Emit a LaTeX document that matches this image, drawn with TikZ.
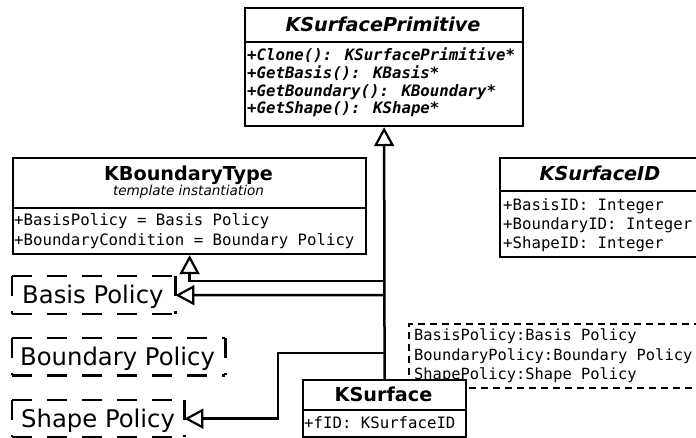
\documentclass[tikz,border=0pt]{standalone}
\usepackage{fontspec}
\usetikzlibrary{arrows.meta}
\newfontfamily\uisans{DejaVu Sans}
\newfontfamily\uimono{DejaVu Sans Mono}

\tikzset{
  classbox/.style={draw, line width=2.2pt, fill=white, inner sep=0pt, anchor=north west},
  divider/.style={line width=2.2pt},
  ttl/.style={font=\uisans\bfseries\fontsize{19.2}{22}\selectfont, anchor=base, inner sep=0pt},
  ttlit/.style={ttl, font=\uisans\bfseries\itshape\fontsize{19.2}{22}\selectfont},
  stereo/.style={font=\uisans\itshape\fontsize{13.6}{16}\selectfont, anchor=base, inner sep=0pt},
  attr/.style={font=\uimono\fontsize{15.7}{18}\selectfont, anchor=base west, inner sep=0pt},
  tplattr/.style={attr, font=\uimono\fontsize{15.4}{18}\selectfont},
  meth/.style={font=\uimono\bfseries\itshape\fontsize{15.7}{18}\selectfont, anchor=base west, inner sep=0pt},
  policy/.style={inner sep=0pt, anchor=north west},
  policytext/.style={font=\uisans\fontsize{24.3}{28}\selectfont, anchor=base west, inner sep=0pt},
  polyedge/.style={line width=2.2pt, dash pattern=on 20pt off 15pt},
  tparam/.style={draw, line width=2pt, dash pattern=on 7pt off 5pt, inner sep=0pt, anchor=north west},
  inh/.style={line width=2.5pt, -{Triangle[open, length=19pt, width=20pt, line width=2.2pt]}},
}

\begin{document}
\begin{tikzpicture}[x=1pt, y=-1pt]
\useasboundingbox (0,0) rectangle (696,438);
\clip (0,0) rectangle (696,438);

% abstract base class
\node[classbox, minimum width=278pt, minimum height=118pt] (ksp) at (244,7) {};
\draw[divider] (ksp.west |- 0,42) -- (ksp.east |- 0,42);
\node[ttlit] (ksp-name) at (383,31.5) {KSurfacePrimitive};
\node[meth] (ksp-m1) at (247,60.5) {+Clone(): KSurfacePrimitive*};
\node[meth] (ksp-m2) at (247,78.3) {+GetBasis(): KBasis*};
\node[meth] (ksp-m3) at (247,96.1) {+GetBoundary(): KBoundary*};
\node[meth] (ksp-m4) at (247,113.9) {+GetShape(): KShape*};

% template instantiation
\node[classbox, minimum width=353pt, minimum height=96pt] (kbt) at (12,157) {};
\draw[divider] (kbt.west |- 0,208) -- (kbt.east |- 0,208);
\node[ttl] (kbt-name) at (188.5,181) {KBoundaryType};
\node[stereo] (kbt-stereo) at (188.5,196) {template instantiation};
\node[attr] (kbt-a1) at (14,225.5) {+BasisPolicy = Basis Policy};
\node[attr] (kbt-a2) at (14,245.5) {+BoundaryCondition = Boundary Policy};

% surface id
\node[classbox, minimum width=202pt, minimum height=99pt] (kid) at (499,157) {};
\draw[divider] (kid.west |- 0,191) -- (kid.east |- 0,191);
\node[ttlit] (kid-name) at (600,181) {KSurfaceID};
\node[attr] (kid-a1) at (503,210.5) {+BasisID: Integer};
\node[attr] (kid-a2) at (503,229.5) {+BoundaryID: Integer};
\node[attr] (kid-a3) at (503,248.5) {+ShapeID: Integer};

% policy parameters
\node[policy, minimum width=163pt, minimum height=38pt] (basis) at (12,276) {};
\node[policy, minimum width=213pt, minimum height=37pt] (bound) at (12,338) {};
\node[policy, minimum width=172pt, minimum height=37pt] (shape) at (12,400) {};
\foreach \p in {basis,bound,shape}{
  \draw[polyedge] (\p.north west) -- (\p.north east);
  \draw[polyedge] (\p.north east) -- (\p.south east);
  \draw[polyedge] (\p.south west) -- (\p.south east);
  \draw[polyedge] (\p.north west) -- (\p.south west);
}
\node[policytext] (basis-txt) at (22,304) {Basis Policy};
\node[policytext] (bound-txt) at (20,365.5) {Boundary Policy};
\node[policytext] (shape-txt) at (21,427.5) {Shape Policy};

% template parameters of KSurface
\node[tparam, minimum width=300pt, minimum height=64pt] (tpl) at (408,323) {};
\node[tplattr] (tpl-a1) at (414,340.5) {BasisPolicy:Basis Policy};
\node[tplattr] (tpl-a2) at (414,360.5) {BoundaryPolicy:Boundary Policy};
\node[tplattr] (tpl-a3) at (414,379.5) {ShapePolicy:Shape Policy};

% concrete surface
\node[classbox, minimum width=163pt, minimum height=57pt] (ksurf) at (302,379) {};
\draw[divider] (ksurf.west |- 0,410) -- (ksurf.east |- 0,410);
\node[ttl] (ksurf-name) at (383.5,401) {KSurface};
\node[attr] (ksurf-a1) at (304,428.5) {+fID: KSurfaceID};

% inheritance
\coordinate (j1) at (383.5,281);
\coordinate (j2) at (383.5,295);
\coordinate (j3) at (383.5,353);
\coordinate (bend) at (278,353);
\draw[inh] (ksurf.north) -- (ksp.south);
\draw[inh] (j1) -| (kbt.south);
\draw[inh] (j2) -- (basis.east);
\draw[inh] (j3) -- (bend) |- (shape.east);
\end{tikzpicture}
\end{document}
